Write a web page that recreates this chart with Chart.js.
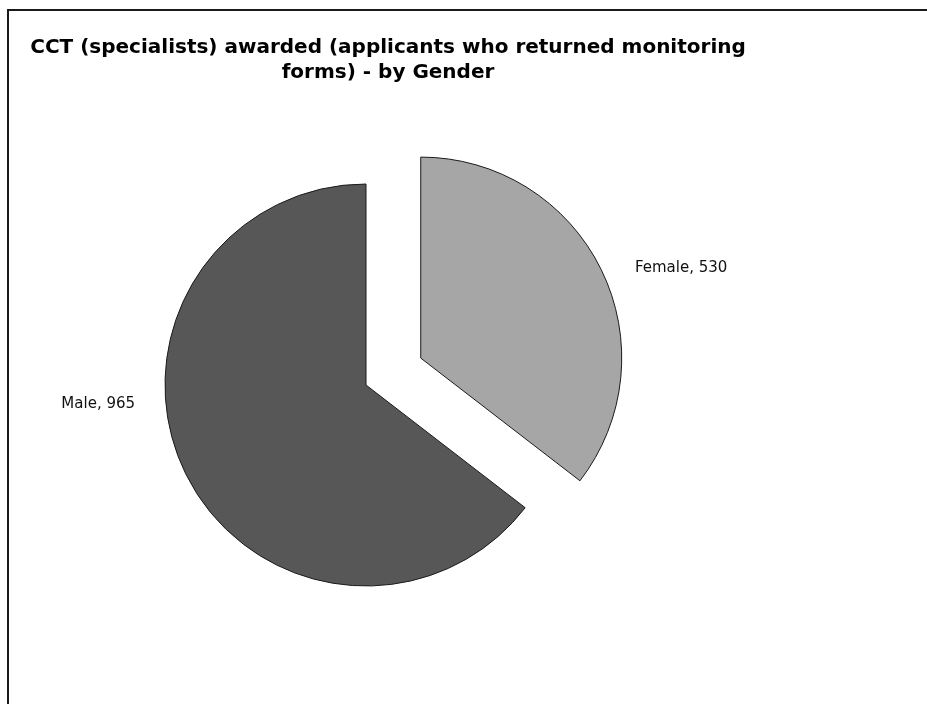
<!DOCTYPE html>
<html>
<head>
<meta charset="utf-8">
<script src="https://cdn.jsdelivr.net/npm/chart.js@4/dist/chart.umd.min.js"></script>
<style>
  html, body { margin: 0; padding: 0; background: #ffffff; overflow: hidden; }
  #wrap { position: relative; width: 927px; height: 704px; }
  #frame { position: absolute; left: 7px; top: 9px; width: 1000px; height: 800px;
           border-top: 2px solid #1a1a1a; border-left: 2px solid #1a1a1a; box-sizing: border-box; }
  canvas { position: absolute; left: 0; top: 0; }
</style>
</head>
<body>
<div id="wrap">
  <div id="frame"></div>
  <canvas id="c" width="927" height="704"></canvas>
</div>
<script>
// ---- data ----
const categories = ['Female', 'Male'];
const values = [530, 965];
const titleLines = ['CCT (specialists) awarded (applicants who returned monitoring', 'forms) - by Gender'];

// ---- styles ----
const sliceColors = ['#a6a6a6', '#575757'];
const explodeDistance = [61, 0];

// moves exploded slices outward along their mid-angle without changing radius
const explodePlugin = {
  id: 'explode',
  afterDatasetsUpdate(chart) {
    const meta = chart.getDatasetMeta(0);
    meta.data.forEach((arc, i) => {
      const d = explodeDistance[i] || 0;
      if (!d) return;
      const mid = (arc.startAngle + arc.endAngle) / 2;
      arc.x += Math.cos(mid) * d;
      arc.y += Math.sin(mid) * d;
    });
  }
};

const labelPlugin = {
  id: 'excelText',
  afterDatasetsDraw(chart) {
    const ctx = chart.ctx;
    const area = chart.chartArea;
    const cx = (area.left + area.right) / 2;
    const cy = (area.top + area.bottom) / 2;
    ctx.save();
    // title
    ctx.fillStyle = '#000000';
    ctx.font = 'bold 20px "DejaVu Sans", Verdana, sans-serif';
    ctx.textAlign = 'center';
    ctx.textBaseline = 'alphabetic';
    titleLines.forEach((t, i) => ctx.fillText(t, 388, 53 + i * 25));
    // data labels
    const meta = chart.getDatasetMeta(0);
    ctx.font = '15px "DejaVu Sans", Verdana, sans-serif';
    ctx.fillStyle = '#111111';
    meta.data.forEach((arc, i) => {
      const R = arc.outerRadius;
      const txt = categories[i] + ', ' + values[i];
      if (i === 0) {
        ctx.textAlign = 'left';
        ctx.fillText(txt, cx + 1.338 * R, cy - 0.562 * R);
      } else {
        ctx.textAlign = 'right';
        ctx.fillText(txt, cx - 1.149 * R, cy + 0.114 * R);
      }
    });
    ctx.restore();
  }
};

new Chart(document.getElementById('c'), {
  type: 'pie',
  data: {
    labels: categories,
    datasets: [{
      data: values,
      backgroundColor: sliceColors,
      borderColor: '#1a1a1a',
      borderWidth: 1,
      hoverBorderWidth: 1,
      offset: 0,
      hoverOffset: 0
    }]
  },
  options: {
    responsive: false,
    animation: false,
    events: [],
    layout: { padding: { left: 164.5, top: 183.5, right: 359.5, bottom: 117.5 } },
    plugins: {
      legend: { display: false },
      title: { display: false },
      tooltip: { enabled: false }
    }
  },
  plugins: [explodePlugin, labelPlugin]
});
</script>
</body>
</html>
